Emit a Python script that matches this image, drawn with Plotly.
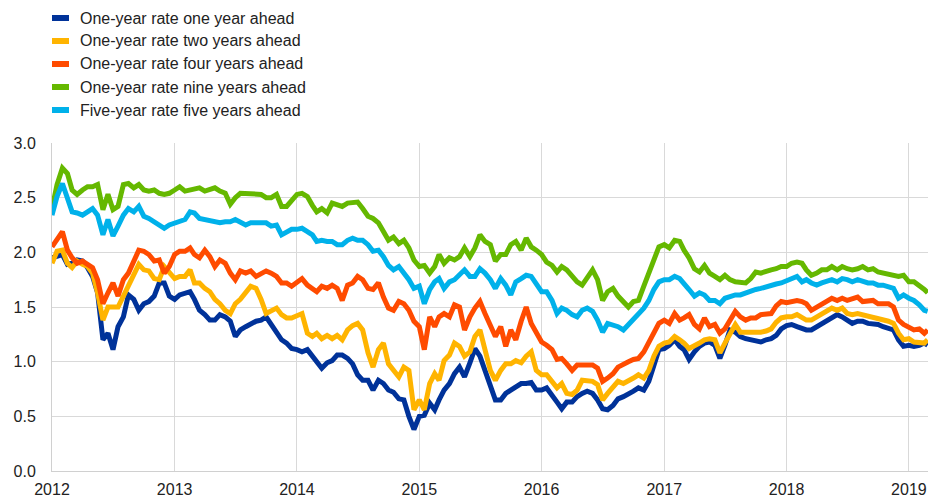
import plotly.graph_objects as go

# semi-monthly observation dates (1st and 16th of each month) up to Feb 2019
dates = [f"{y}-{m:02d}-{d:02d}" for y in range(2012, 2019) for m in range(1, 13) for d in (1, 16)]
dates += ["2019-01-01", "2019-01-16", "2019-02-01", "2019-02-16", "2019-02-26"]

one_year_one_ahead = [
    1.95, 1.96, 1.98, 1.89, 1.90, 1.93, 1.92, 1.86, 1.78, 1.63, 1.20, 1.26,
    1.11, 1.32, 1.41, 1.61, 1.57, 1.47, 1.53, 1.55, 1.60, 1.72, 1.72, 1.60,
    1.57, 1.61, 1.63, 1.64, 1.57, 1.47, 1.43, 1.38, 1.38, 1.43, 1.41, 1.37,
    1.23, 1.29, 1.32, 1.35, 1.37, 1.38, 1.41, 1.34, 1.26, 1.20, 1.17, 1.12,
    1.11, 1.09, 1.11, 1.05, 1.01, 0.94, 0.99, 1.01, 1.06, 1.06, 1.03, 0.98,
    0.88, 0.83, 0.83, 0.74, 0.83, 0.80, 0.74, 0.72, 0.66, 0.65, 0.50, 0.38,
    0.50, 0.51, 0.62, 0.56, 0.65, 0.74, 0.80, 0.89, 0.95, 0.86, 0.99, 1.12,
    1.05, 0.92, 0.80, 0.65, 0.65, 0.71, 0.74, 0.77, 0.80, 0.80, 0.81, 0.74,
    0.74, 0.76, 0.70, 0.63, 0.57, 0.63, 0.63, 0.68, 0.71, 0.73, 0.71, 0.65,
    0.57, 0.56, 0.60, 0.66, 0.68, 0.70, 0.73, 0.76, 0.74, 0.82, 0.98, 1.11,
    1.12, 1.15, 1.20, 1.14, 1.11, 1.02, 1.09, 1.14, 1.17, 1.18, 1.15, 1.03,
    1.15, 1.29, 1.27, 1.23, 1.21, 1.20, 1.20, 1.18, 1.20, 1.21, 1.24, 1.30,
    1.33, 1.34, 1.32, 1.30, 1.29, 1.29, 1.32, 1.35, 1.38, 1.41, 1.43, 1.41,
    1.38, 1.35, 1.37, 1.37, 1.35, 1.35, 1.34, 1.32, 1.30, 1.29, 1.20, 1.14,
    1.15, 1.14, 1.15, 1.17, 1.15,
]

one_year_two_ahead = [
    1.90, 2.01, 2.02, 1.90, 1.86, 1.92, 1.89, 1.87, 1.81, 1.63, 1.38, 1.50,
    1.50, 1.50, 1.60, 1.69, 1.81, 1.89, 1.84, 1.83, 1.76, 1.75, 1.87, 1.81,
    1.76, 1.78, 1.78, 1.84, 1.72, 1.72, 1.67, 1.64, 1.57, 1.53, 1.47, 1.44,
    1.53, 1.57, 1.63, 1.69, 1.67, 1.57, 1.44, 1.47, 1.49, 1.43, 1.40, 1.40,
    1.42, 1.44, 1.26, 1.23, 1.26, 1.21, 1.24, 1.21, 1.24, 1.20, 1.29, 1.33,
    1.35, 1.29, 1.08, 0.95, 1.11, 1.17, 0.98, 0.92, 0.86, 0.95, 0.92, 0.56,
    0.65, 0.56, 0.80, 0.89, 0.83, 1.01, 1.06, 1.17, 1.14, 1.05, 1.09, 1.23,
    1.29, 1.11, 0.92, 0.83, 0.92, 0.98, 0.98, 1.01, 0.99, 1.05, 1.09, 0.92,
    0.88, 0.88, 0.82, 0.76, 0.80, 0.71, 0.70, 0.74, 0.83, 0.82, 0.82, 0.79,
    0.65, 0.71, 0.77, 0.82, 0.80, 0.82, 0.85, 0.88, 0.85, 0.92, 1.05, 1.14,
    1.17, 1.18, 1.23, 1.20, 1.17, 1.12, 1.14, 1.17, 1.20, 1.21, 1.20, 1.08,
    1.17, 1.26, 1.34, 1.27, 1.27, 1.26, 1.27, 1.27, 1.28, 1.30, 1.36, 1.40,
    1.41, 1.41, 1.43, 1.40, 1.38, 1.38, 1.41, 1.44, 1.46, 1.49, 1.47, 1.49,
    1.44, 1.43, 1.44, 1.43, 1.41, 1.41, 1.40, 1.38, 1.37, 1.35, 1.26, 1.20,
    1.21, 1.18, 1.18, 1.17, 1.20,
]

one_year_four_ahead = [
    2.05, 2.11, 2.19, 2.02, 1.95, 1.90, 1.92, 1.89, 1.86, 1.75, 1.53, 1.63,
    1.72, 1.60, 1.75, 1.81, 1.93, 2.02, 2.01, 1.98, 1.92, 1.93, 1.81, 1.87,
    1.98, 2.01, 2.01, 2.04, 1.98, 1.95, 2.02, 1.96, 1.87, 1.93, 1.90, 1.81,
    1.75, 1.83, 1.81, 1.83, 1.78, 1.81, 1.83, 1.81, 1.78, 1.72, 1.72, 1.69,
    1.72, 1.76, 1.70, 1.66, 1.64, 1.69, 1.67, 1.70, 1.67, 1.56, 1.70, 1.72,
    1.78, 1.75, 1.67, 1.66, 1.72, 1.59, 1.49, 1.47, 1.55, 1.53, 1.47, 1.37,
    1.32, 1.11, 1.41, 1.32, 1.41, 1.44, 1.41, 1.52, 1.50, 1.29, 1.41, 1.49,
    1.55, 1.44, 1.32, 1.23, 1.32, 1.14, 1.29, 1.20, 1.37, 1.50, 1.35, 1.26,
    1.18, 1.15, 1.11, 1.02, 1.03, 0.98, 0.92, 0.97, 0.97, 0.97, 0.97, 0.94,
    0.82, 0.85, 0.89, 0.95, 0.98, 1.00, 1.02, 1.03, 1.09, 1.17, 1.27, 1.35,
    1.38, 1.35, 1.44, 1.38, 1.40, 1.43, 1.34, 1.30, 1.40, 1.32, 1.34, 1.26,
    1.30, 1.38, 1.46, 1.41, 1.38, 1.40, 1.40, 1.43, 1.43, 1.44, 1.51, 1.55,
    1.54, 1.55, 1.56, 1.55, 1.53, 1.47, 1.50, 1.52, 1.55, 1.58, 1.56, 1.58,
    1.56, 1.58, 1.59, 1.55, 1.56, 1.56, 1.53, 1.53, 1.53, 1.50, 1.38, 1.34,
    1.32, 1.29, 1.30, 1.26, 1.29,
]

one_year_nine_ahead = [
    2.40, 2.62, 2.77, 2.72, 2.57, 2.53, 2.57, 2.60, 2.60, 2.62, 2.39, 2.53,
    2.39, 2.42, 2.62, 2.63, 2.59, 2.62, 2.57, 2.56, 2.57, 2.54, 2.53, 2.54,
    2.57, 2.60, 2.56, 2.57, 2.59, 2.59, 2.56, 2.57, 2.59, 2.56, 2.54, 2.44,
    2.50, 2.54, 2.54, 2.54, 2.53, 2.53, 2.50, 2.50, 2.53, 2.42, 2.42, 2.47,
    2.53, 2.54, 2.51, 2.43, 2.37, 2.40, 2.36, 2.45, 2.43, 2.42, 2.45, 2.45,
    2.46, 2.40, 2.33, 2.31, 2.27, 2.19, 2.11, 2.14, 2.08, 2.11, 2.04, 1.93,
    1.87, 1.88, 1.81, 1.87, 1.98, 1.90, 1.95, 1.93, 1.96, 2.04, 1.96, 2.04,
    2.16, 2.10, 2.07, 1.92, 1.98, 1.98, 2.07, 2.10, 2.02, 2.13, 2.05, 2.02,
    1.98, 1.91, 1.88, 1.82, 1.87, 1.84, 1.79, 1.73, 1.70, 1.76, 1.84, 1.75,
    1.56, 1.64, 1.67, 1.60, 1.55, 1.50, 1.55, 1.56, 1.69, 1.81, 1.95, 2.05,
    2.07, 2.04, 2.11, 2.10, 2.02, 1.95, 1.85, 1.82, 1.88, 1.81, 1.78, 1.75,
    1.79, 1.75, 1.73, 1.72, 1.72, 1.76, 1.82, 1.81, 1.83, 1.84, 1.85, 1.87,
    1.87, 1.90, 1.91, 1.90, 1.84, 1.79, 1.81, 1.84, 1.84, 1.87, 1.84, 1.87,
    1.85, 1.84, 1.85, 1.87, 1.84, 1.85, 1.82, 1.81, 1.81, 1.79, 1.78, 1.79,
    1.73, 1.73, 1.70, 1.66, 1.63,
]

five_year_five_ahead = [
    2.34, 2.51, 2.63, 2.48, 2.37, 2.36, 2.34, 2.37, 2.40, 2.34, 2.16, 2.30,
    2.15, 2.24, 2.34, 2.40, 2.37, 2.42, 2.33, 2.31, 2.28, 2.25, 2.22, 2.25,
    2.27, 2.28, 2.30, 2.37, 2.36, 2.31, 2.30, 2.30, 2.28, 2.27, 2.28, 2.28,
    2.30, 2.28, 2.25, 2.27, 2.27, 2.28, 2.27, 2.24, 2.25, 2.16, 2.18, 2.21,
    2.21, 2.22, 2.19, 2.16, 2.10, 2.11, 2.10, 2.10, 2.07, 2.07, 2.11, 2.13,
    2.11, 2.11, 2.07, 2.01, 2.02, 1.96, 1.88, 1.84, 1.87, 1.81, 1.75, 1.67,
    1.69, 1.53, 1.66, 1.73, 1.76, 1.67, 1.73, 1.75, 1.79, 1.84, 1.78, 1.78,
    1.85, 1.81, 1.75, 1.67, 1.76, 1.70, 1.61, 1.73, 1.76, 1.79, 1.78, 1.72,
    1.64, 1.64, 1.56, 1.44, 1.49, 1.47, 1.43, 1.41, 1.47, 1.49, 1.46, 1.38,
    1.27, 1.35, 1.34, 1.32, 1.29, 1.34, 1.40, 1.44, 1.49, 1.56, 1.66, 1.73,
    1.75, 1.75, 1.78, 1.76, 1.72, 1.66, 1.60, 1.63, 1.61, 1.56, 1.56, 1.53,
    1.58, 1.60, 1.61, 1.61, 1.63, 1.64, 1.66, 1.67, 1.68, 1.69, 1.71, 1.72,
    1.74, 1.75, 1.78, 1.73, 1.75, 1.72, 1.70, 1.72, 1.73, 1.75, 1.73, 1.76,
    1.75, 1.73, 1.75, 1.73, 1.72, 1.72, 1.70, 1.70, 1.69, 1.67, 1.58, 1.61,
    1.58, 1.56, 1.52, 1.47, 1.46,
]

series_names = [
    "One-year rate one year ahead",
    "One-year rate two years ahead",
    "One-year rate four years ahead",
    "One-year rate nine years ahead",
    "Five-year rate five years ahead",
]
series_values = [one_year_one_ahead, one_year_two_ahead, one_year_four_ahead,
                 one_year_nine_ahead, five_year_five_ahead]
series_colors = ["#003299", "#FFB400", "#FF4B00", "#65B800", "#00B1EA"]

year_ticks = [f"{y}-01-01" for y in range(2012, 2020)]
year_labels = [str(y) for y in range(2012, 2020)]
y_ticks = [0.0, 0.5, 1.0, 1.5, 2.0, 2.5, 3.0]
y_labels = ["0.0", "0.5", "1.0", "1.5", "2.0", "2.5", "3.0"]

for v in series_values:
    assert len(v) == len(dates), (len(v), len(dates))

W, H = 928, 497
ML, MR, MT, MB = 52, 0, 143, 26
PW, PH = W - ML - MR, H - MT - MB
FONT = "Liberation Sans, Arial, sans-serif"

fig = go.Figure()
for name, vals, col in zip(series_names, series_values, series_colors):
    fig.add_trace(go.Scatter(x=dates, y=vals, mode="lines", name=name,
                             line=dict(color=col, width=5), showlegend=False))

# custom legend (colour swatch + real text); rows given in page pixels
legend_rows_px = [18, 41, 64, 87, 110]
for name, col, py in zip(series_names, series_colors, legend_rows_px):
    yc = (H - MB - py) / PH
    fig.add_shape(type="rect", xref="paper", yref="paper",
                  x0=0, x1=17 / PW, y0=yc - 3 / PH, y1=yc + 3 / PH,
                  fillcolor=col, line=dict(width=0))
    fig.add_annotation(xref="paper", yref="paper", x=26 / PW, y=yc,
                       text=name, showarrow=False, xanchor="left", yanchor="middle",
                       font=dict(size=16, color="#222222", family=FONT))

fig.update_layout(
    width=W, height=H,
    margin=dict(l=ML, r=MR, t=MT, b=MB),
    paper_bgcolor="white", plot_bgcolor="white",
    font=dict(family=FONT, size=16, color="#222222"),
    showlegend=False,
)
fig.update_xaxes(range=["2012-01-01", "2019-02-27"], tickvals=year_ticks, ticktext=year_labels,
                 showgrid=True, gridcolor="#d9d9d9", gridwidth=1,
                 showline=True, linecolor="#d0d0d0", linewidth=1,
                 ticks="", ticklabelstandoff=4, tickfont=dict(size=16), zeroline=False)
fig.update_yaxes(range=[0, 3.0], tickvals=y_ticks, ticktext=y_labels,
                 showgrid=True, gridcolor="#d9d9d9", gridwidth=1,
                 showline=True, linecolor="#d0d0d0", linewidth=1,
                 ticks="", ticklabelstandoff=12, tickfont=dict(size=16), zeroline=False)

# remove the default page margin so the figure sits at the window's top-left corner
fig.write_html("out.html",
               config={"displayModeBar": False},
               post_script="document.body.style.margin='0';document.body.style.overflow='hidden';")
